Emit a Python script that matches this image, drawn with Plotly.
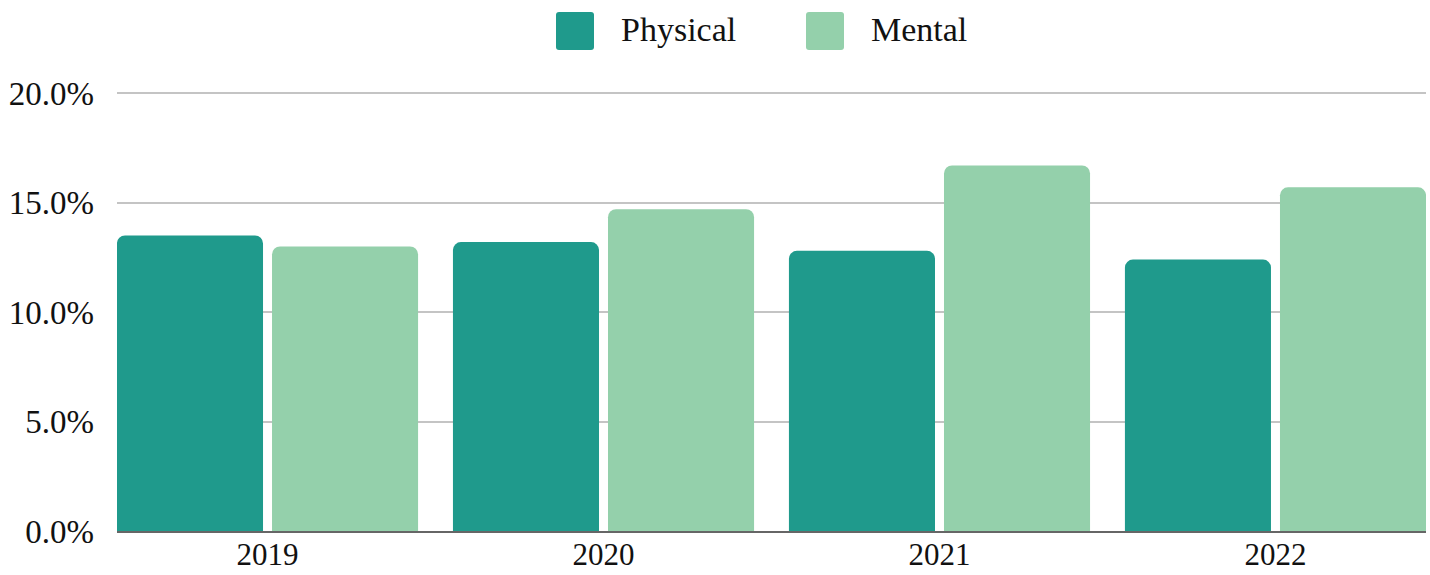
import plotly.graph_objects as go

years = ["2019", "2020", "2021", "2022"]
physical = [13.5, 13.2, 12.8, 12.4]
mental = [13.0, 14.7, 16.7, 15.7]
series_names = ["Physical", "Mental"]
colors = ["#1f9a8c", "#94d0ab"]
y_ticks = [0, 5, 10, 15, 20]
y_tick_labels = ["0.0%", "5.0%", "10.0%", "15.0%", "20.0%"]

FONT = "Liberation Serif"
W, H = 1430, 575
M_L, M_R, M_T, M_B = 117, 4, 91, 44
plot_w = W - M_L - M_R
plot_h = H - M_T - M_B

fig = go.Figure()
for name, vals, col in zip(series_names, [physical, mental], colors):
    fig.add_trace(go.Bar(x=years, y=vals, name=name, marker_color=col,
                         marker_line_width=0, showlegend=False))

# custom legend: large rounded swatches + labels above the plot
def px_to_paper(xp, yp):
    return (xp - M_L) / plot_w, 1 - (yp - M_T) / plot_h

s, r = 19, 3
swatch = (f"M {-s+r},{-s} L {s-r},{-s} Q {s},{-s} {s},{-s+r} L {s},{s-r} "
          f"Q {s},{s} {s-r},{s} L {-s+r},{s} Q {-s},{s} {-s},{s-r} "
          f"L {-s},{-s+r} Q {-s},{-s} {-s+r},{-s} Z")
legend_pos = [(575, 31), (825, 31)]
shapes, annotations = [], []
for (cx, cy), name, col in zip(legend_pos, series_names, colors):
    ax, ay = px_to_paper(cx, cy)
    shapes.append(dict(type="path", xref="paper", yref="paper",
                       xsizemode="pixel", ysizemode="pixel",
                       xanchor=ax, yanchor=ay, path=swatch,
                       fillcolor=col, line=dict(width=0)))
    tx, ty = px_to_paper(cx + 44, cy - 2)
    annotations.append(dict(x=tx, y=ty, xref="paper", yref="paper",
                            text=name, showarrow=False, xanchor="left",
                            yanchor="middle",
                            font=dict(family=FONT, size=34, color="#111")))

fig.update_layout(
    width=W, height=H,
    margin=dict(l=M_L, r=M_R, t=M_T, b=M_B, autoexpand=False),
    plot_bgcolor="white", paper_bgcolor="white",
    barmode="group", bargap=0.077, bargroupgap=0.058,
    barcornerradius=8,
    font=dict(family=FONT, size=32, color="#111"),
    shapes=shapes, annotations=annotations,
    xaxis=dict(type="category", range=[-0.448, 3.448], showgrid=False,
               showline=True, linecolor="#666", linewidth=2,
               ticks="", ticklabelstandoff=-5, automargin=False,
               tickfont=dict(family=FONT, size=31)),
    yaxis=dict(range=[0, 20.1], tickvals=y_ticks, ticktext=y_tick_labels,
               showgrid=True, gridcolor="#c4c4c4", gridwidth=1.5,
               zeroline=False, showline=False, ticks="",
               ticklabelstandoff=22, automargin=False,
               tickfont=dict(family=FONT, size=33)),
)

fig.write_html("out.html")
